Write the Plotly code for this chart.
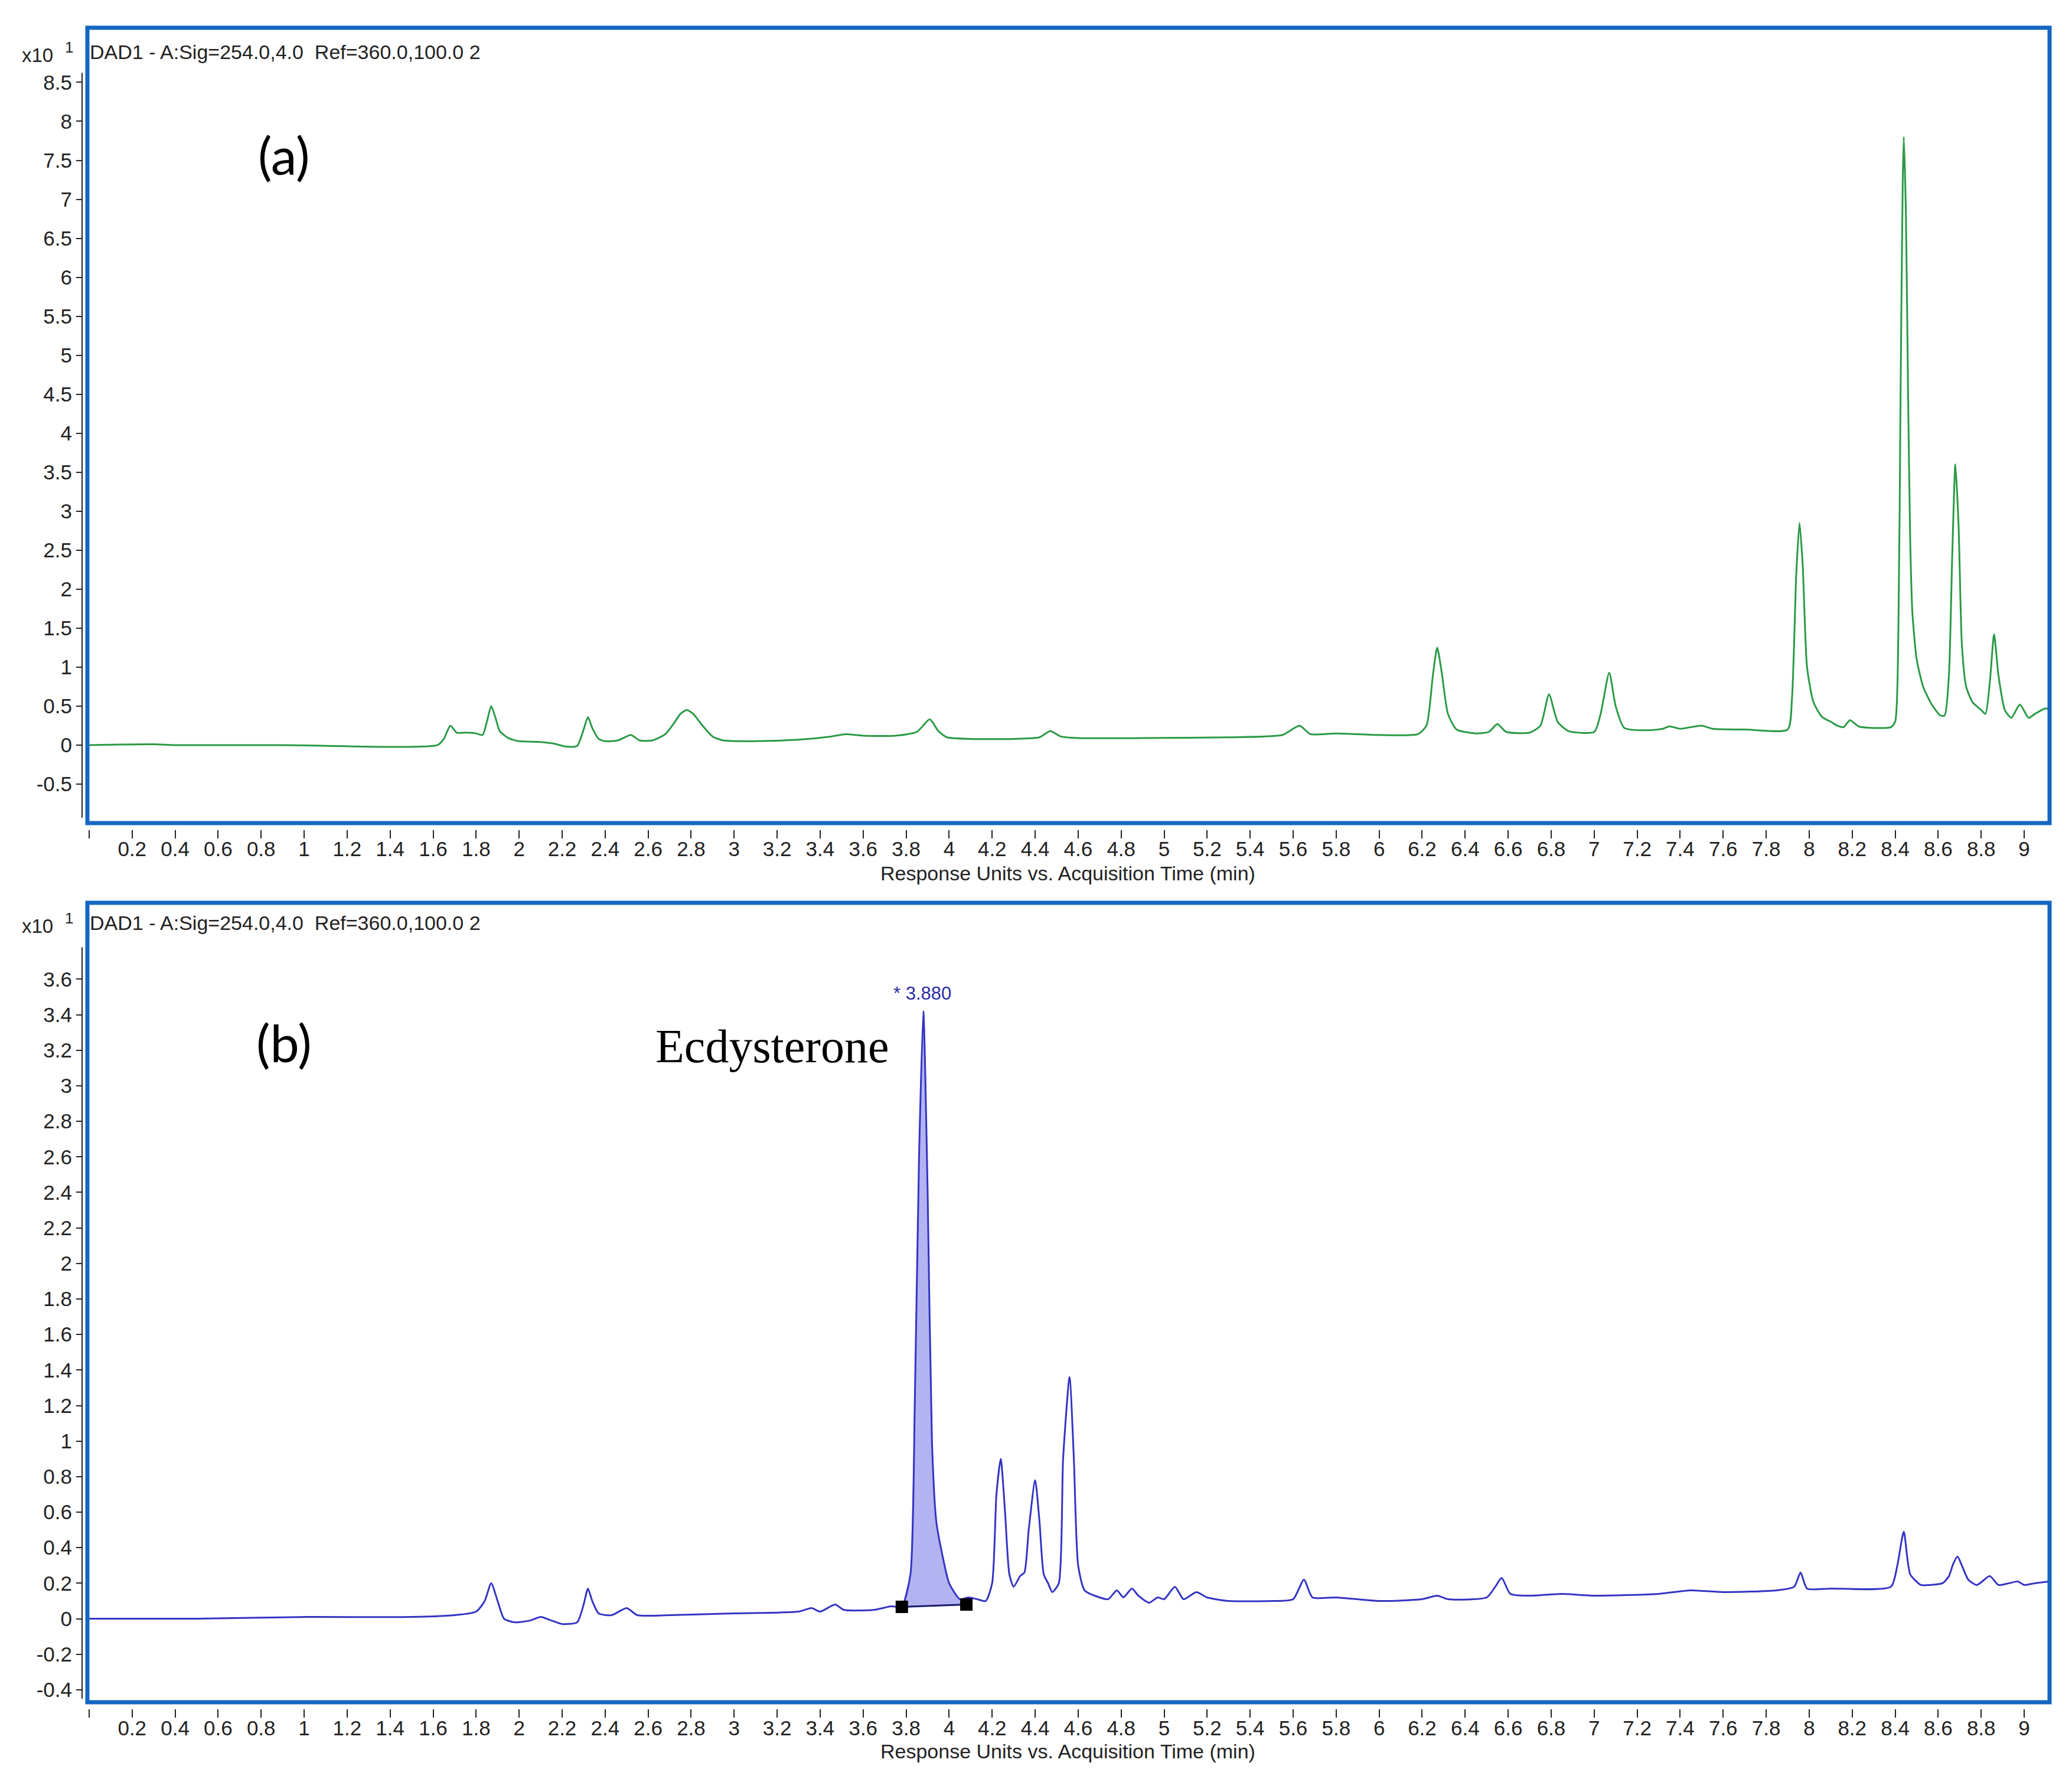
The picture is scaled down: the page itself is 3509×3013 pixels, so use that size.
import numpy as np
import plotly.graph_objects as go

W, H = 3509, 3013
# the page body keeps its default 8px margin, so the figure is drawn 16px smaller
FW, FH = W - 16, H - 16

# ---- data (response in x10^1 units, time in min) ----
time_a = [0.00, 0.30, 0.40, 0.90, 1.62, 1.65, 1.68, 1.71, 1.75, 1.80, 1.83, 1.85, 1.87, 1.89, 1.91,
          1.95, 2.00, 2.10, 2.16, 2.22, 2.27, 2.30, 2.32, 2.34, 2.37, 2.40, 2.46, 2.52, 2.56, 2.62,
          2.68, 2.72, 2.75, 2.78, 2.81, 2.85, 2.90, 2.95, 3.10, 3.30, 3.45, 3.52, 3.60, 3.75, 3.85,
          3.91, 3.95, 3.99, 4.10, 4.30, 4.42, 4.47, 4.52, 4.60, 4.90, 5.30, 5.55, 5.63, 5.68, 5.80,
          6.00, 6.18, 6.22, 6.25, 6.27, 6.29, 6.32, 6.36, 6.45, 6.51, 6.55, 6.59, 6.70, 6.75, 6.79,
          6.83, 6.88, 7.00, 7.03, 7.07, 7.10, 7.14, 7.25, 7.32, 7.35, 7.40, 7.50, 7.55, 7.70, 7.90,
          7.92, 7.94, 7.955, 7.97, 7.99, 8.02, 8.06, 8.10, 8.13, 8.16, 8.19, 8.23, 8.30, 8.38, 8.40,
          8.415, 8.425, 8.435, 8.44, 8.45, 8.46, 8.47, 8.48, 8.50, 8.53, 8.57, 8.61, 8.63, 8.65, 8.665,
          8.68, 8.695, 8.71, 8.73, 8.76, 8.80, 8.82, 8.84, 8.86, 8.88, 8.91, 8.94, 8.98, 9.02, 9.05,
          9.10, 9.12]
resp_a = [0.00, 0.01, 0.00, 0.00, 0.00, 0.08, 0.25, 0.16, 0.16, 0.15, 0.13, 0.30, 0.50, 0.35, 0.18,
          0.09, 0.05, 0.04, 0.02, -0.02, -0.01, 0.20, 0.36, 0.22, 0.08, 0.05, 0.06, 0.13, 0.06, 0.06,
          0.14, 0.28, 0.40, 0.45, 0.40, 0.26, 0.11, 0.06, 0.05, 0.07, 0.11, 0.14, 0.12, 0.12, 0.17,
          0.33, 0.18, 0.10, 0.08, 0.08, 0.10, 0.18, 0.11, 0.09, 0.09, 0.10, 0.13, 0.25, 0.14, 0.15,
          0.13, 0.14, 0.25, 0.90, 1.25, 0.95, 0.40, 0.20, 0.15, 0.17, 0.27, 0.17, 0.16, 0.25, 0.65,
          0.30, 0.18, 0.17, 0.40, 0.93, 0.50, 0.22, 0.19, 0.21, 0.24, 0.21, 0.25, 0.21, 0.20, 0.20,
          0.60, 2.20, 2.85, 2.30, 1.00, 0.55, 0.36, 0.30, 0.25, 0.23, 0.32, 0.24, 0.22, 0.23, 0.30,
          1.50, 4.50, 7.20, 7.80, 6.80, 4.50, 2.60, 1.70, 1.10, 0.75, 0.52, 0.38, 0.38, 0.90, 2.40,
          3.60, 2.80, 1.30, 0.75, 0.55, 0.45, 0.40, 0.80, 1.42, 0.90, 0.45, 0.35, 0.52, 0.35, 0.40,
          0.47, 0.45]

time_b = [0.00, 0.50, 1.00, 1.50, 1.70, 1.80, 1.84, 1.87, 1.90, 1.93, 1.98, 2.05, 2.10, 2.15, 2.20,
          2.27, 2.30, 2.32, 2.34, 2.37, 2.43, 2.50, 2.55, 2.70, 3.00, 3.30, 3.36, 3.40, 3.47, 3.51,
          3.65, 3.73, 3.78, 3.82, 3.84, 3.86, 3.88, 3.90, 3.92, 3.94, 3.97, 4.00, 4.05, 4.09, 4.13,
          4.17, 4.20, 4.22, 4.24, 4.26, 4.28, 4.30, 4.33, 4.35, 4.37, 4.40, 4.42, 4.44, 4.46, 4.48,
          4.51, 4.53, 4.56, 4.58, 4.60, 4.63, 4.70, 4.74, 4.78, 4.81, 4.85, 4.88, 4.93, 4.97, 5.00,
          5.05, 5.09, 5.15, 5.20, 5.30, 5.50, 5.60, 5.65, 5.69, 5.80, 6.00, 6.20, 6.27, 6.32, 6.50,
          6.54, 6.57, 6.61, 6.70, 6.85, 7.00, 7.30, 7.45, 7.60, 7.85, 7.93, 7.96, 7.99, 8.10, 8.38,
          8.41, 8.44, 8.47, 8.52, 8.56, 8.62, 8.65, 8.67, 8.69, 8.71, 8.74, 8.78, 8.84, 8.88, 8.93,
          8.97, 9.00, 9.05, 9.12]
resp_b = [0.00, 0.00, 0.01, 0.01, 0.02, 0.04, 0.10, 0.20, 0.10, 0.00, -0.02, -0.01, 0.01, -0.01, -0.03,
          -0.02, 0.08, 0.17, 0.10, 0.03, 0.02, 0.06, 0.02, 0.02, 0.03, 0.04, 0.06, 0.04, 0.08, 0.05,
          0.05, 0.07, 0.07, 0.25, 1.20, 2.60, 3.42, 2.40, 1.00, 0.55, 0.35, 0.20, 0.11, 0.12, 0.11,
          0.10, 0.20, 0.70, 0.90, 0.60, 0.25, 0.18, 0.24, 0.26, 0.50, 0.78, 0.55, 0.25, 0.20, 0.15,
          0.20, 0.90, 1.36, 0.90, 0.30, 0.16, 0.12, 0.11, 0.16, 0.12, 0.17, 0.13, 0.09, 0.12, 0.11,
          0.18, 0.11, 0.15, 0.12, 0.10, 0.10, 0.11, 0.22, 0.12, 0.12, 0.10, 0.11, 0.13, 0.11, 0.12,
          0.18, 0.23, 0.14, 0.13, 0.14, 0.13, 0.14, 0.16, 0.15, 0.16, 0.18, 0.26, 0.17, 0.17, 0.18,
          0.30, 0.49, 0.25, 0.19, 0.19, 0.20, 0.24, 0.31, 0.35, 0.30, 0.22, 0.19, 0.24, 0.19, 0.20,
          0.21, 0.19, 0.20, 0.21]

# integration of the ecdysterone peak: start/end points of the drawn baseline
integ_time = [3.78, 4.08]
integ_resp = [0.067, 0.08]
peak_label = "* 3.880"

x_tickvals = [round(0.2 * i, 1) for i in range(46)]
x_ticktext = ["" if v == 0 else f"{v:g}" for v in x_tickvals]
ya_tickvals = [round(-0.5 + 0.5 * i, 1) for i in range(19)]
yb_tickvals = [round(-0.4 + 0.2 * i, 1) for i in range(21)]

signal_text = "DAD1 - A:Sig=254.0,4.0  Ref=360.0,100.0 2"
xtitle = "Response Units vs. Acquisition Time (min)"

GREEN = "#2a9a45"
BLUE = "#3434c4"
BOX = "#1466c2"
NARROW = "Liberation Sans Narrow, Arial Narrow, Liberation Sans, Arial"


def px_x(p):
    return (p - 8) / FW


def px_y(p):
    return 1 - (p - 8) / FH


fig = go.Figure()

# panel (a)
fig.add_trace(go.Scatter(x=time_a, y=resp_a, mode="lines", xaxis="x", yaxis="y",
                         line=dict(color=GREEN, width=3, shape="spline", smoothing=0.6)))

# panel (b): shaded integrated area first, then the trace on top
tb = np.array(time_b)
rb = np.array(resp_b)
inside = (tb > integ_time[0]) & (tb < integ_time[1])
fill_x = [integ_time[0]] + list(tb[inside]) + [integ_time[1], integ_time[1], integ_time[0]]
fill_y = [integ_resp[0]] + list(rb[inside]) + [float(np.interp(integ_time[1], tb, rb)),
                                              integ_resp[1], integ_resp[0]]
fig.add_trace(go.Scatter(x=fill_x, y=fill_y, mode="lines", fill="toself", xaxis="x2", yaxis="y2",
                         fillcolor="rgba(160,160,238,0.8)", line=dict(width=0)))
fig.add_trace(go.Scatter(x=time_b, y=resp_b, mode="lines", xaxis="x2", yaxis="y2",
                         line=dict(color=BLUE, width=3, shape="spline", smoothing=0.6)))
fig.add_trace(go.Scatter(x=integ_time, y=integ_resp, mode="lines+markers", xaxis="x2", yaxis="y2",
                         line=dict(color="#1a1a70", width=3),
                         marker=dict(symbol="square", size=21, color="black")))

xdom = [px_x(148), px_x(3471)]
top_dom = [px_y(1394), px_y(47)]
bot_dom = [px_y(2883), px_y(1529)]
xr = [-0.008, 9.118]

tickfont = dict(family=NARROW, size=35, color="#222222")
xcommon = dict(range=xr, domain=xdom, anchor="free", tickmode="array", tickvals=x_tickvals,
               ticktext=x_ticktext, ticks="outside", ticklen=14, tickwidth=2, tickcolor="#222222",
               ticklabelstandoff=-12,
               showline=False, showgrid=False, zeroline=False, tickfont=tickfont)
ycommon = dict(anchor="free", position=px_x(139), ticks="outside", ticklen=10, tickwidth=2,
               tickcolor="#222222", showline=False, showgrid=False, zeroline=False,
               tickfont=tickfont, tickmode="array")

fig.update_layout(
    width=FW, height=FH, margin=dict(l=0, r=0, t=0, b=0),
    paper_bgcolor="white", plot_bgcolor="white", showlegend=False,
    xaxis=dict(xcommon, position=px_y(1405)),
    xaxis2=dict(xcommon, position=px_y(2894)),
    yaxis=dict(ycommon, domain=top_dom, range=[-1.0, 9.2], tickvals=ya_tickvals,
               ticktext=[f"{v:g}" for v in ya_tickvals]),
    yaxis2=dict(ycommon, domain=bot_dom, range=[-0.47, 4.03], tickvals=yb_tickvals,
                ticktext=[f"{v:g}" for v in yb_tickvals]),
)

# blue frames and black y-axis lines
for dom in (top_dom, bot_dom):
    fig.add_shape(type="rect", xref="paper", yref="paper", x0=xdom[0], x1=xdom[1],
                  y0=dom[0], y1=dom[1], line=dict(color=BOX, width=7))
fig.add_shape(type="line", xref="paper", yref="y", x0=px_x(139), x1=px_x(139), y0=-0.93, y1=8.62,
              line=dict(color="#222222", width=2))
fig.add_shape(type="line", xref="paper", yref="y2", x0=px_x(139), x1=px_x(139), y0=-0.45, y1=3.78,
              line=dict(color="#222222", width=2))


def note(text, x, y, size, family=NARROW, color="#222222", xanchor="center", **kw):
    fig.add_annotation(text=text, x=px_x(x), y=px_y(y), xref="paper", yref="paper",
                       showarrow=False, xanchor=xanchor, yanchor="middle",
                       font=dict(family=family, size=size, color=color), **kw)


for top in (0, 1475):
    note("x10", 92, 93 + top, 33, xanchor="right")
    note("1", 108, 80 + top, 26, xanchor="left")
    note(signal_text, 150, 88 + top, 34, xanchor="left")
    note(xtitle, 1808, 1479 + top * 1.008, 34)

note("(a)", 481, 262, 88, family="Lato, Open Sans, sans-serif", color="black")
note("(b)", 481, 1765, 88, family="Lato, Open Sans, sans-serif", color="black")
note("Ecdysterone", 1307, 1772, 80, family="Liberation Serif, Times New Roman, serif", color="black")

fig.add_annotation(text=peak_label, x=3.875, y=3.52, xref="x2", yref="y2", showarrow=False,
                   xanchor="center", yanchor="middle",
                   font=dict(family=NARROW, size=31, color="#2a2aa8"))

fig.write_html("out.html")
